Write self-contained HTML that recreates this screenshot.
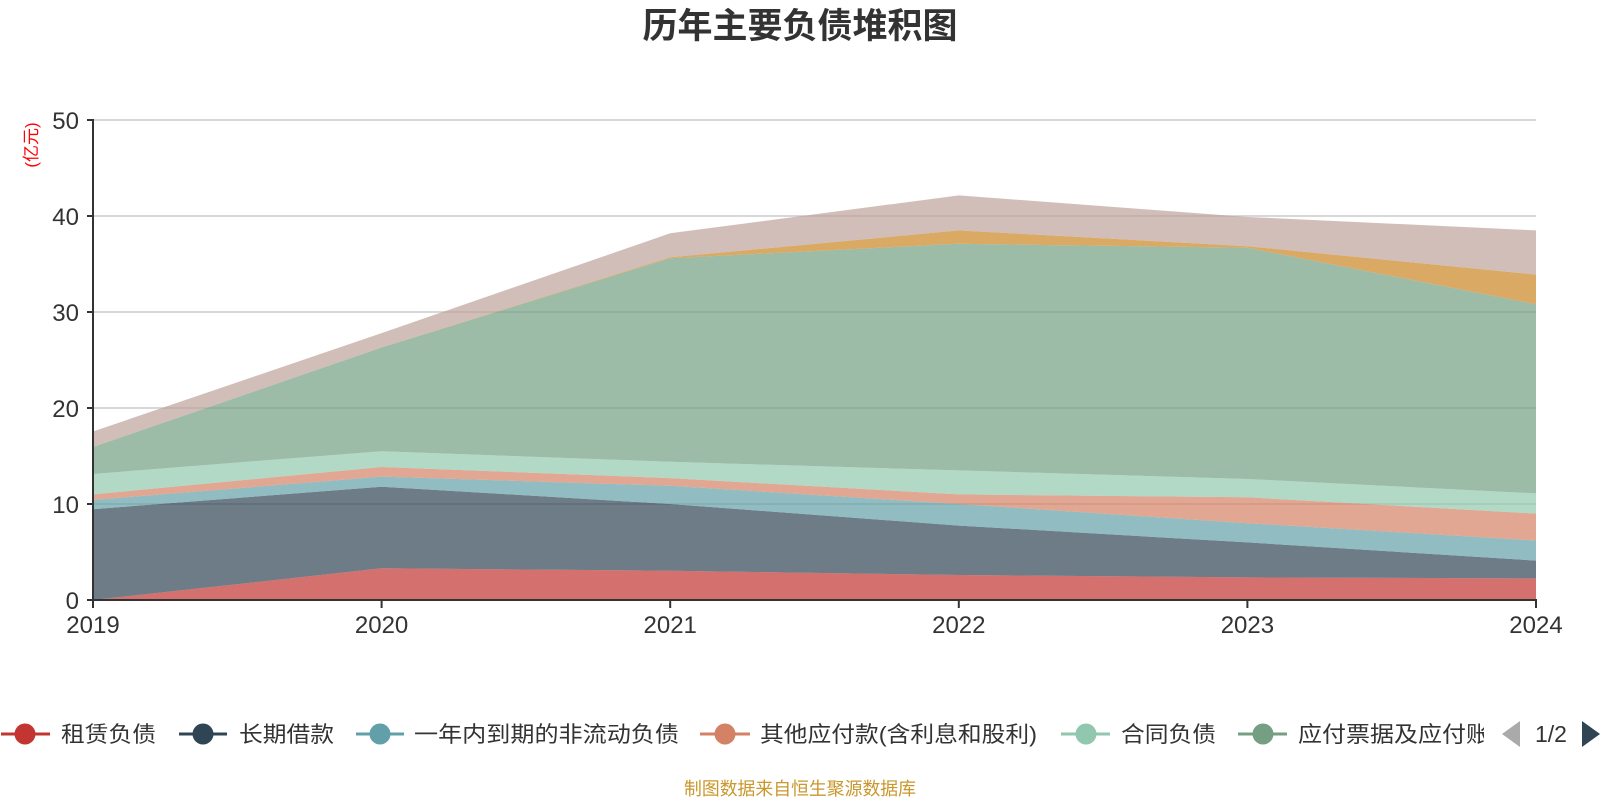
<!DOCTYPE html>
<html>
<head>
<meta charset="utf-8">
<style>
  html, body { margin: 0; padding: 0; background: #ffffff; }
  body { width: 1600px; height: 800px; overflow: hidden; }
  svg { display: block; }
  text { font-family: "Liberation Sans", "Noto Sans CJK SC", sans-serif; }
</style>
</head>
<body>
<svg width="1600" height="800" viewBox="0 0 1600 800" xmlns="http://www.w3.org/2000/svg">
  <rect x="0" y="0" width="1600" height="800" fill="#ffffff"/>

  <!-- Title -->
  <text x="800" y="38" text-anchor="middle" font-size="35" font-weight="bold" fill="#333333" style="font-family:'Liberation Sans','Noto Sans CJK SC',sans-serif;">历年主要负债堆积图</text>

  <!-- Y axis name -->
  <text transform="translate(37,145) rotate(-90)" text-anchor="middle" font-size="17" fill="#ff0000">(亿元)</text>

  <!-- Grid lines -->
  <g stroke="#cccccc" stroke-width="1.5">
    <line x1="93" y1="120" x2="1536" y2="120"/>
    <line x1="93" y1="216" x2="1536" y2="216"/>
    <line x1="93" y1="312" x2="1536" y2="312"/>
    <line x1="93" y1="408" x2="1536" y2="408"/>
    <line x1="93" y1="504" x2="1536" y2="504"/>
  </g>

  <!-- Stacked areas -->
  <g fill-opacity="0.7" stroke="none">
    <polygon fill="#c23531" points="93,600 381.6,568.3 670.2,570.7 958.8,575.0 1247.4,577.4 1536,578.4 1536,600 1247.4,600 958.8,600 670.2,600 381.6,600 93,600"/>
    <polygon fill="#2f4554" points="93,509.2 381.6,486.7 670.2,504 958.8,525.6 1247.4,542.4 1536,560.6 1536,578.4 1247.4,577.4 958.8,575.0 670.2,570.7 381.6,568.3 93,600"/>
    <polygon fill="#61a0a8" points="93,499.9 381.6,476.6 670.2,485.8 958.8,504 1247.4,523.2 1536,540.5 1536,560.6 1247.4,542.4 958.8,525.6 670.2,504 381.6,486.7 93,509.2"/>
    <polygon fill="#d48265" points="93,494.4 381.6,467.0 670.2,478.1 958.8,494.4 1247.4,497.3 1536,513.6 1536,540.5 1247.4,523.2 958.8,504 670.2,485.8 381.6,476.6 93,499.9"/>
    <polygon fill="#91c7ae" points="93,473.95 381.6,451.2 670.2,461.8 958.8,470.4 1247.4,479.0 1536,493.4 1536,513.6 1247.4,497.3 958.8,494.4 670.2,478.1 381.6,467.0 93,494.4"/>
    <polygon fill="#749f83" points="93,446.98 381.6,347.5 670.2,258.2 958.8,243.8 1247.4,247.7 1536,304.3 1536,493.4 1247.4,479.0 958.8,470.4 670.2,461.8 381.6,451.2 93,473.95"/>
    <polygon fill="#ca8622" points="93,446.98 381.6,347.5 670.2,257.3 958.8,230.4 1247.4,246.2 1536,274.6 1536,304.3 1247.4,247.7 958.8,243.8 670.2,258.2 381.6,347.5 93,446.98"/>
    <polygon fill="#bda29a" points="93,431.5 381.6,333.1 670.2,233.3 958.8,195.4 1247.4,216.96 1536,230.4 1536,274.6 1247.4,246.2 958.8,230.4 670.2,257.3 381.6,347.5 93,446.98"/>
  </g>

  <!-- Axes -->
  <g stroke="#333333" stroke-width="2">
    <line x1="93" y1="119" x2="93" y2="601"/>
    <line x1="92" y1="600" x2="1537" y2="600"/>
    <line x1="87" y1="120" x2="93" y2="120"/>
    <line x1="87" y1="216" x2="93" y2="216"/>
    <line x1="87" y1="312" x2="93" y2="312"/>
    <line x1="87" y1="408" x2="93" y2="408"/>
    <line x1="87" y1="504" x2="93" y2="504"/>
    <line x1="87" y1="600" x2="93" y2="600"/>
    <line x1="93" y1="600" x2="93" y2="608"/>
    <line x1="381.6" y1="600" x2="381.6" y2="608"/>
    <line x1="670.2" y1="600" x2="670.2" y2="608"/>
    <line x1="958.8" y1="600" x2="958.8" y2="608"/>
    <line x1="1247.4" y1="600" x2="1247.4" y2="608"/>
    <line x1="1536" y1="600" x2="1536" y2="608"/>
  </g>

  <!-- Y labels -->
  <g font-size="24" fill="#333333" text-anchor="end">
    <text x="79" y="129">50</text>
    <text x="79" y="225">40</text>
    <text x="79" y="321">30</text>
    <text x="79" y="417">20</text>
    <text x="79" y="513">10</text>
    <text x="79" y="609">0</text>
  </g>

  <!-- X labels -->
  <g font-size="24" fill="#333333" text-anchor="middle">
    <text x="93" y="633">2019</text>
    <text x="381.6" y="633">2020</text>
    <text x="670.2" y="633">2021</text>
    <text x="958.8" y="633">2022</text>
    <text x="1247.4" y="633">2023</text>
    <text x="1536" y="633">2024</text>
  </g>

  <!-- Legend -->
  <defs>
    <clipPath id="legclip"><rect x="0" y="700" width="1484" height="70"/></clipPath>
  </defs>
  <g clip-path="url(#legclip)">
    <g stroke-width="3">
      <line x1="1" y1="734" x2="50" y2="734" stroke="#c23531"/>
      <line x1="179" y1="734" x2="227" y2="734" stroke="#2f4554"/>
      <line x1="356" y1="734" x2="404" y2="734" stroke="#61a0a8"/>
      <line x1="700" y1="734" x2="750" y2="734" stroke="#d48265"/>
      <line x1="1061" y1="734" x2="1110" y2="734" stroke="#91c7ae"/>
      <line x1="1238" y1="734" x2="1287" y2="734" stroke="#749f83"/>
    </g>
    <circle cx="25" cy="734" r="10.5" fill="#c23531"/>
    <circle cx="203" cy="734" r="10.5" fill="#2f4554"/>
    <circle cx="380" cy="734" r="10.5" fill="#61a0a8"/>
    <circle cx="725" cy="734" r="10.5" fill="#d48265"/>
    <circle cx="1086" cy="734" r="10.5" fill="#91c7ae"/>
    <circle cx="1263" cy="734" r="10.5" fill="#749f83"/>
    <g font-size="22" fill="#333333">
      <text x="61" y="742" textLength="95" lengthAdjust="spacingAndGlyphs">租赁负债</text>
      <text x="239" y="742" textLength="95" lengthAdjust="spacingAndGlyphs">长期借款</text>
      <text x="414" y="742" textLength="265" lengthAdjust="spacingAndGlyphs">一年内到期的非流动负债</text>
      <text x="760" y="742" textLength="277" lengthAdjust="spacingAndGlyphs">其他应付款(含利息和股利)</text>
      <text x="1121" y="742" textLength="95" lengthAdjust="spacingAndGlyphs">合同负债</text>
      <text x="1298" y="742" textLength="216" lengthAdjust="spacingAndGlyphs">应付票据及应付账款</text>
    </g>
  </g>

  <!-- Legend pager -->
  <polygon points="1520,721 1520,747 1502,734" fill="#aaaaaa"/>
  <text x="1551" y="742" font-size="23" fill="#333333" text-anchor="middle">1/2</text>
  <polygon points="1582,721 1582,747 1600,734" fill="#2f4554"/>

  <!-- Footer -->
  <text x="800" y="795" font-size="18" fill="#c9972c" text-anchor="middle" textLength="232" lengthAdjust="spacingAndGlyphs">制图数据来自恒生聚源数据库</text>
</svg>
</body>
</html>
